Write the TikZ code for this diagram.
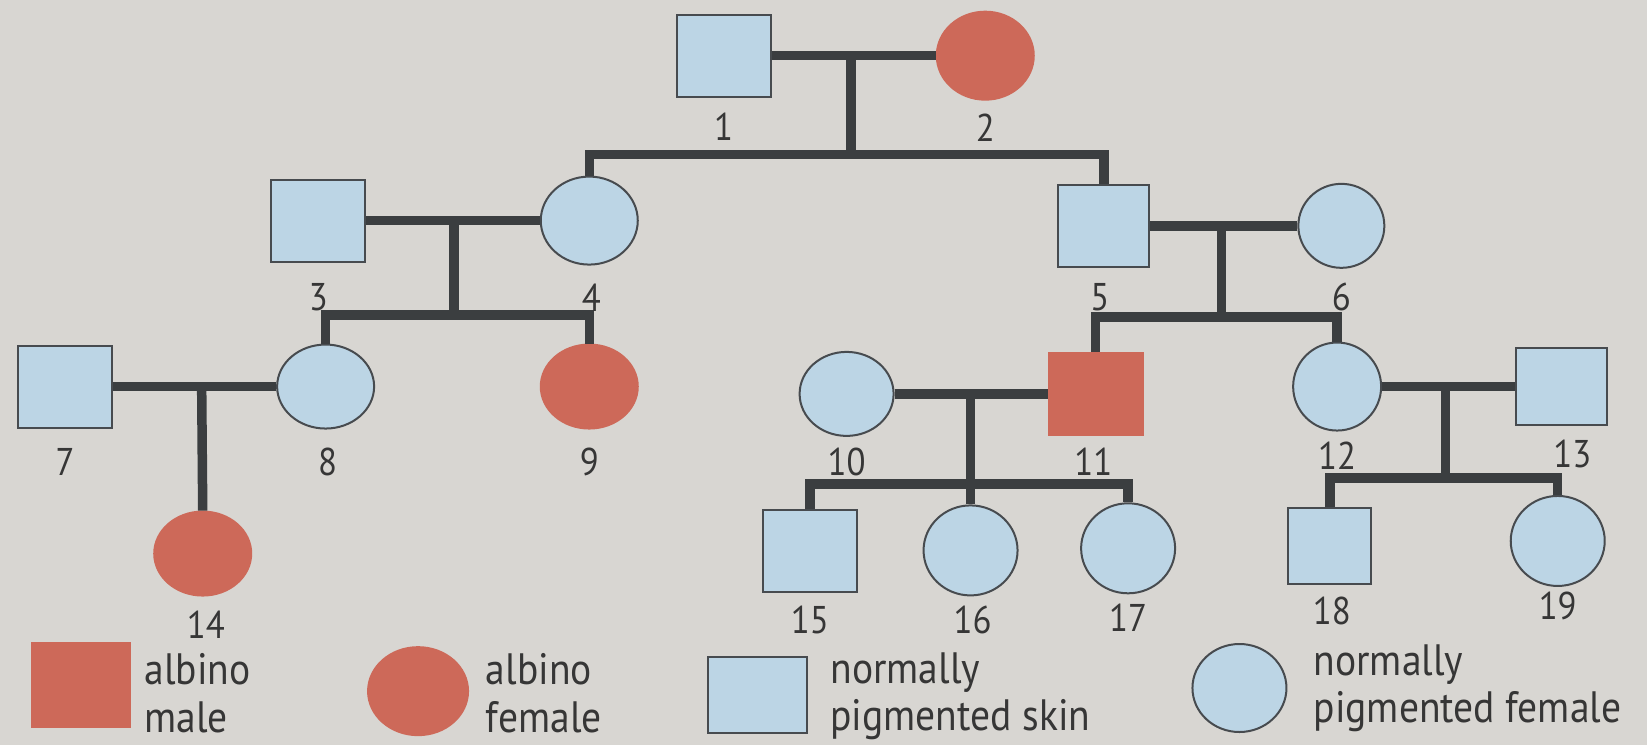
\documentclass[tikz,border=0pt]{standalone}
\usepackage{fontspec}
\setmainfont{PT Sans}[FakeStretch=0.9]
\usetikzlibrary{shapes.geometric}
\definecolor{paper}{HTML}{D8D6D2}
\definecolor{skin}{HTML}{BCD5E5}
\definecolor{albred}{HTML}{CD6959}
\definecolor{kin}{HTML}{3B3E40}
\definecolor{edge}{HTML}{474B4F}
\definecolor{ink}{HTML}{363636}
\begin{document}
\begin{tikzpicture}[x=0.10504mm,y=-0.10504mm,line join=miter,
	male/.style={draw=edge,line width=0.2mm,fill=skin,minimum width=9.4mm,minimum height=8.2mm,inner sep=0pt},
	female/.style={ellipse,draw=edge,line width=0.2mm,fill=skin,minimum width=9.7mm,minimum height=8.8mm,inner sep=0pt},
	albino/.style={fill=albred,draw=albred},
	link/.style={line width=0.95mm,draw=kin},
	num/.style={font=\fontsize{11}{13}\selectfont,text=ink,inner sep=0pt},
	key/.style={font=\fontsize{12.5}{13.5}\selectfont,align=left,anchor=west,text=ink,inner sep=0pt}]
		\useasboundingbox (0,0) rectangle (1568,709);
		\fill[paper] (0,0) rectangle (1568,709);
		\node[male] (n1) at (689,53) {};
		\node[female,albino] (n2) at (938,53) {};
		\node[male] (n3) at (303,210) {};
		\node[female] (n4) at (561,210) {};
		\node[male,minimum width=9.1mm] (n5) at (1051,215) {};
		\node[female,minimum width=8.6mm,minimum height=8.4mm] (n6) at (1277,215) {};
		\node[male] (n7) at (62,368) {};
		\node[female,minimum height=8.4mm] (n8) at (310,368) {};
		\node[female,albino,minimum height=8.4mm] (n9) at (561,368) {};
		\node[female,minimum width=9.4mm,minimum height=8.4mm] (n10) at (806,375) {};
		\node[male,albino] (n11) at (1043,375) {};
		\node[female,minimum width=8.8mm,minimum height=8.8mm] (n12) at (1273,368) {};
		\node[male,minimum width=9.1mm,minimum height=7.7mm] (n13) at (1487,368) {};
		\node[female,albino,minimum height=8.4mm] (n14) at (193,527) {};
		\node[male] (n15) at (771,525) {};
		\node[female,minimum width=9.4mm,minimum height=9mm] (n16) at (924,524) {};
		\node[female,minimum width=9.4mm,minimum height=9mm] (n17) at (1074,522) {};
		\node[male,minimum width=8.3mm,minimum height=7.6mm] (n18) at (1266,520) {};
		\node[female,minimum width=9.4mm,minimum height=9mm] (n19) at (1483,515) {};
		\coordinate (m12) at (810,53);
		\coordinate (s12) at (810,147);
		\coordinate (m34) at (432,210);
		\coordinate (s34) at (432,300);
		\coordinate (m56) at (1163,215);
		\coordinate (s56) at (1163,302);
		\coordinate (m78) at (192,368);
		\coordinate (m1011) at (924,375);
		\coordinate (s1011) at (924,461);
		\coordinate (m1213) at (1376,368);
		\coordinate (s1213) at (1376,455);
		\draw[link] (n1)--(n2);
		\draw[link] (m12)--(s12);
		\draw[link] (n4.north)|-(s12)-|(n5.north);
		\draw[link] (n3)--(n4);
		\draw[link] (m34)--(s34);
		\draw[link] (n8.north)|-(s34)-|(n9.north);
		\draw[link] (n5)--(n6);
		\draw[link] (m56)--(s56);
		\draw[link] (n11.north)|-(s56)-|(n12.north);
		\draw[link] (n7)--(n8);
		\draw[link] (m78)--(n14.north);
		\draw[link] (n10)--(n11);
		\draw[link] (m1011)--(s1011);
		\draw[link] (n15.north)|-(s1011)-|(n17.north);
		\draw[link] (s1011)--(n16.north);
		\draw[link] (n12)--(n13);
		\draw[link] (m1213)--(s1213);
		\draw[link] (n18.north)|-(s1213)-|(n19.north);
		\node[num] (l1) at (689,121) {1};
		\node[num] (l2) at (938,122) {2};
		\node[num] (l3) at (303,283) {3};
		\node[num] (l4) at (563,283) {4};
		\node[num] (l5) at (1047,283) {5};
		\node[num] (l6) at (1277,283) {6};
		\node[num] (l7) at (62,440) {7};
		\node[num] (l8) at (312,440) {8};
		\node[num] (l9) at (561,440) {9};
		\node[num] (l10) at (806,440) {10};
		\node[num] (l11) at (1041,440) {11};
		\node[num] (l12) at (1273,434) {12};
		\node[num] (l13) at (1497,432) {13};
		\node[num] (l14) at (196,595) {14};
		\node[num] (l15) at (771,590) {15};
		\node[num] (l16) at (926,590) {16};
		\node[num] (l17) at (1074,588) {17};
		\node[num] (l18) at (1268,582) {18};
		\node[num] (l19) at (1483,577) {19};
		\node[male,albino,minimum width=9.8mm,minimum height=8.4mm] (k1) at (77,652) {};
		\node[key] (t1) at (137,660) {albino\\male};
		\node[female,albino,minimum width=10mm,minimum height=8.8mm] (k2) at (398,658) {};
		\node[key] (t2) at (462,660) {albino\\female};
		\node[male,minimum width=9.9mm,minimum height=7.6mm] (k3) at (721,662) {};
		\node[key] (t3) at (790,663) {normally\\pigmented skin};
		\node[female,minimum width=9.4mm,minimum height=8.8mm] (k4) at (1180,655) {};
		\node[key] (t4) at (1250,655) {normally\\pigmented female};
\end{tikzpicture}
\end{document}
